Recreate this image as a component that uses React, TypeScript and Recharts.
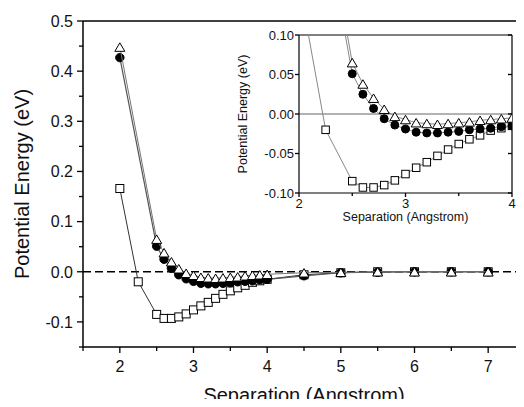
import React from "react";
import { ScatterChart, Scatter, XAxis, YAxis, ReferenceLine } from "recharts";

// Separation (Angstrom) for the circle / triangle runs
const separation = [
  2.0, 2.5, 2.6, 2.7, 2.8, 2.9, 3.0, 3.1, 3.2, 3.3, 3.4, 3.5, 3.6, 3.7, 3.8, 3.9, 4.0,
  4.5, 5.0, 5.5, 6.0, 6.5, 7.0,
];
const filledCircle = [
  0.427, 0.051, 0.025, 0.007, -0.006, -0.014, -0.019, -0.023, -0.024, -0.024, -0.023,
  -0.022, -0.02, -0.019, -0.018, -0.016, -0.015, -0.008, -0.002, -0.001, 0, 0, 0,
];
const openTriangle = [
  0.448, 0.065, 0.038, 0.02, 0.006, -0.003, -0.007, -0.011, -0.012, -0.013, -0.012,
  -0.011, -0.01, -0.008, -0.007, -0.006, -0.005, -0.002, -0.001, 0, 0, 0, 0,
];

// the square run has one extra point at 2.25
const squareSeparation = [
  2.0, 2.25, 2.5, 2.6, 2.7, 2.8, 2.9, 3.0, 3.1, 3.2, 3.3, 3.4, 3.5, 3.6, 3.7, 3.8, 3.9,
  4.0, 4.5, 5.0, 5.5, 6.0, 6.5, 7.0,
];
const openSquare = [
  0.166, -0.02, -0.085, -0.093, -0.093, -0.09, -0.084, -0.076, -0.068, -0.061, -0.053,
  -0.045, -0.038, -0.032, -0.027, -0.021, -0.018, -0.015, -0.006, -0.002, 0, 0, 0, 0,
];

const mainXTicks = [1.5, 2, 2.5, 3, 3.5, 4, 4.5, 5, 5.5, 6, 6.5, 7, 7.5];
const mainYTicks = [-0.15, -0.1, -0.05, 0, 0.05, 0.1, 0.15, 0.2, 0.25, 0.3, 0.35, 0.4, 0.45, 0.5];
const insetXTicks = [2, 2.5, 3, 3.5, 4];
const insetYTicks = [-0.1, -0.075, -0.05, -0.025, 0, 0.025, 0.05, 0.075, 0.1];

const toPoints = (xs: number[], ys: number[]) => xs.map((x, i) => ({ x, y: ys[i] }));
const circles = toPoints(separation, filledCircle);
const triangles = toPoints(separation, openTriangle);
const squares = toPoints(squareSeparation, openSquare);

const FONT = "'Liberation Sans', Arial, Helvetica, sans-serif";

const onStep = (step: number) => (v: number) => Math.abs(v / step - Math.round(v / step)) < 1e-6;

type Side = "bottom" | "top" | "left" | "right";

// ticks drawn by hand: out on bottom/left, in on top/right, short minor ticks
const makeTick =
  (
    side: Side,
    o: { isMajor: (v: number) => boolean; fmt?: (v: number) => string; major: number; minor: number; font: number; gap: number }
  ) =>
  (props: any) => {
    const { x, y, payload } = props;
    const v = payload.value as number;
    const major = o.isMajor(v);
    const len = major ? o.major : o.minor;
    let x2 = x;
    let y2 = y;
    if (side === "bottom" || side === "top") y2 = y + len;
    else x2 = x - len;
    let label = null;
    if (major && o.fmt) {
      if (side === "bottom")
        label = (
          <text x={x} y={y + o.gap} textAnchor="middle" fontSize={o.font} fontFamily={FONT} fill="#111">
            {o.fmt(v)}
          </text>
        );
      if (side === "left")
        label = (
          <text x={x - o.gap} y={y + o.font * 0.36} textAnchor="end" fontSize={o.font} fontFamily={FONT} fill="#111">
            {o.fmt(v)}
          </text>
        );
    }
    return (
      <g>
        <line x1={x} y1={y} x2={x2} y2={y2} stroke="#000" strokeWidth={1.3} />
        {label}
      </g>
    );
  };

const Circle = (r: number) => (p: any) => <circle cx={p.cx} cy={p.cy} r={r} fill="#000" stroke="#000" />;
const Triangle = (w: number, h: number) => (p: any) => (
  <polygon
    points={`${p.cx},${p.cy - h / 2} ${p.cx - w / 2},${p.cy + h / 2} ${p.cx + w / 2},${p.cy + h / 2}`}
    fill="#fff"
    stroke="#000"
    strokeWidth={1}
  />
);
const Square = (s: number) => (p: any) => (
  <rect x={p.cx - s / 2} y={p.cy - s / 2} width={s} height={s} fill="#fff" stroke="#000" strokeWidth={1} />
);

const axisStroke = { stroke: "#000", strokeWidth: 1.5 };

function MainChart() {
  const fmtY = (v: number) => v.toFixed(1);
  return (
    <ScatterChart width={530} height={407} margin={{ top: 0, right: 0, bottom: 0, left: 0 }}>
      <XAxis
        xAxisId="b"
        dataKey="x"
        type="number"
        domain={[1.5, 7.5]}
        ticks={mainXTicks}
        allowDataOverflow
        height={60}
        tickSize={0}
        tickMargin={0}
        tickLine={false}
        axisLine={axisStroke}
        tick={makeTick("bottom", { isMajor: onStep(1), fmt: (v) => String(v), major: 6, minor: 4, font: 16, gap: 25 })}
        label={{
          content: (p: any) => (
            <text x={p.viewBox.x + p.viewBox.width / 2} y={401.5} textAnchor="middle" fontSize={20} fontFamily={FONT} fill="#111">
              Separation (Angstrom)
            </text>
          ),
        }}
      />
      <XAxis
        xAxisId="t"
        orientation="top"
        type="number"
        domain={[1.5, 7.5]}
        ticks={mainXTicks}
        allowDataOverflow
        height={21}
        tickSize={0}
        tickMargin={0}
        tickLine={false}
        axisLine={axisStroke}
        tick={makeTick("top", { isMajor: onStep(1), major: 6, minor: 4, font: 16, gap: 0 })}
      />
      <YAxis
        yAxisId="l"
        dataKey="y"
        type="number"
        domain={[-0.15, 0.5]}
        ticks={mainYTicks}
        allowDataOverflow
        width={83}
        tickSize={0}
        tickMargin={0}
        tickLine={false}
        axisLine={axisStroke}
        tick={makeTick("left", { isMajor: onStep(0.1), fmt: fmtY, major: 6, minor: 4, font: 16, gap: 10 })}
        label={{
          content: (p: any) => {
            const cy = p.viewBox.y + p.viewBox.height / 2;
            return (
              <text x={22} y={cy} transform={`rotate(-90 22 ${cy})`} textAnchor="middle" dominantBaseline="central" fontSize={20} fontFamily={FONT} fill="#111">
                Potential Energy (eV)
              </text>
            );
          },
        }}
      />
      <YAxis
        yAxisId="r"
        orientation="right"
        type="number"
        domain={[-0.15, 0.5]}
        ticks={mainYTicks}
        allowDataOverflow
        width={5}
        tickSize={0}
        tickMargin={0}
        tickLine={false}
        axisLine={axisStroke}
        tick={makeTick("right", { isMajor: onStep(0.1), major: 6, minor: 4, font: 16, gap: 0 })}
      />
      <ReferenceLine xAxisId="b" yAxisId="l" y={0} stroke="#000" strokeWidth={1.3} strokeDasharray="8 4" />
      <Scatter xAxisId="b" yAxisId="l" data={squares} line={{ stroke: "#333", strokeWidth: 1 }} shape={Square(8)} isAnimationActive={false} />
      <Scatter xAxisId="b" yAxisId="l" data={circles} line={{ stroke: "#555", strokeWidth: 1.2 }} shape={Circle(4.2)} isAnimationActive={false} />
      <Scatter xAxisId="b" yAxisId="l" data={triangles} line={{ stroke: "#777", strokeWidth: 1 }} shape={Triangle(10, 8.5)} isAnimationActive={false} />
    </ScatterChart>
  );
}

function InsetChart() {
  const fmtY = (v: number) => v.toFixed(2);
  const insetStroke = { stroke: "#000", strokeWidth: 1.2 };
  return (
    <ScatterChart width={290} height={200} margin={{ top: 0, right: 0, bottom: 0, left: 0 }}>
      <XAxis
        xAxisId="b"
        dataKey="x"
        type="number"
        domain={[2, 4]}
        ticks={insetXTicks}
        allowDataOverflow
        height={32}
        tickSize={0}
        tickMargin={0}
        tickLine={false}
        axisLine={insetStroke}
        tick={makeTick("bottom", { isMajor: onStep(1), fmt: (v) => String(v), major: 4, minor: 3, font: 13, gap: 15 })}
        label={{
          content: (p: any) => (
            <text x={p.viewBox.x + p.viewBox.width / 2} y={196} textAnchor="middle" fontSize={12.5} fontFamily={FONT} fill="#111">
              Separation (Angstrom)
            </text>
          ),
        }}
      />
      <XAxis
        xAxisId="t"
        orientation="top"
        type="number"
        domain={[2, 4]}
        ticks={insetXTicks}
        allowDataOverflow
        height={10}
        tickSize={0}
        tickMargin={0}
        tickLine={false}
        axisLine={insetStroke}
        tick={makeTick("top", { isMajor: onStep(1), major: 4, minor: 3, font: 13, gap: 0 })}
      />
      <YAxis
        yAxisId="l"
        dataKey="y"
        type="number"
        domain={[-0.1, 0.1]}
        ticks={insetYTicks}
        allowDataOverflow
        width={69}
        tickSize={0}
        tickMargin={0}
        tickLine={false}
        axisLine={insetStroke}
        tick={makeTick("left", { isMajor: onStep(0.05), fmt: fmtY, major: 4, minor: 3, font: 13, gap: 5 })}
        label={{
          content: (p: any) => {
            const cy = p.viewBox.y + p.viewBox.height / 2;
            return (
              <text x={13} y={cy} transform={`rotate(-90 13 ${cy})`} textAnchor="middle" dominantBaseline="central" fontSize={12.5} fontFamily={FONT} fill="#111">
                Potential Energy (eV)
              </text>
            );
          },
        }}
      />
      <YAxis
        yAxisId="r"
        orientation="right"
        type="number"
        domain={[-0.1, 0.1]}
        ticks={insetYTicks}
        allowDataOverflow
        width={8}
        tickSize={0}
        tickMargin={0}
        tickLine={false}
        axisLine={insetStroke}
        tick={makeTick("right", { isMajor: onStep(0.05), major: 4, minor: 3, font: 13, gap: 0 })}
      />
      <ReferenceLine xAxisId="b" yAxisId="l" y={0} stroke="#666" strokeWidth={1} />
      <Scatter xAxisId="b" yAxisId="l" data={squares} line={{ stroke: "#888", strokeWidth: 1 }} shape={Square(7.5)} isAnimationActive={false} />
      <Scatter xAxisId="b" yAxisId="l" data={circles} line={{ stroke: "#888", strokeWidth: 1 }} shape={Circle(4)} isAnimationActive={false} />
      <Scatter xAxisId="b" yAxisId="l" data={triangles} line={{ stroke: "#888", strokeWidth: 1 }} shape={Triangle(10, 8.5)} isAnimationActive={false} />
    </ScatterChart>
  );
}

export default function App() {
  return (
    <div style={{ position: "relative", width: 524, height: 407, margin: -8, overflow: "hidden", background: "#fff" }}>
      <div style={{ position: "absolute", left: 0, top: 0 }}>
        <MainChart />
      </div>
      <div style={{ position: "absolute", left: 230, top: 25 }}>
        <InsetChart />
      </div>
    </div>
  );
}
